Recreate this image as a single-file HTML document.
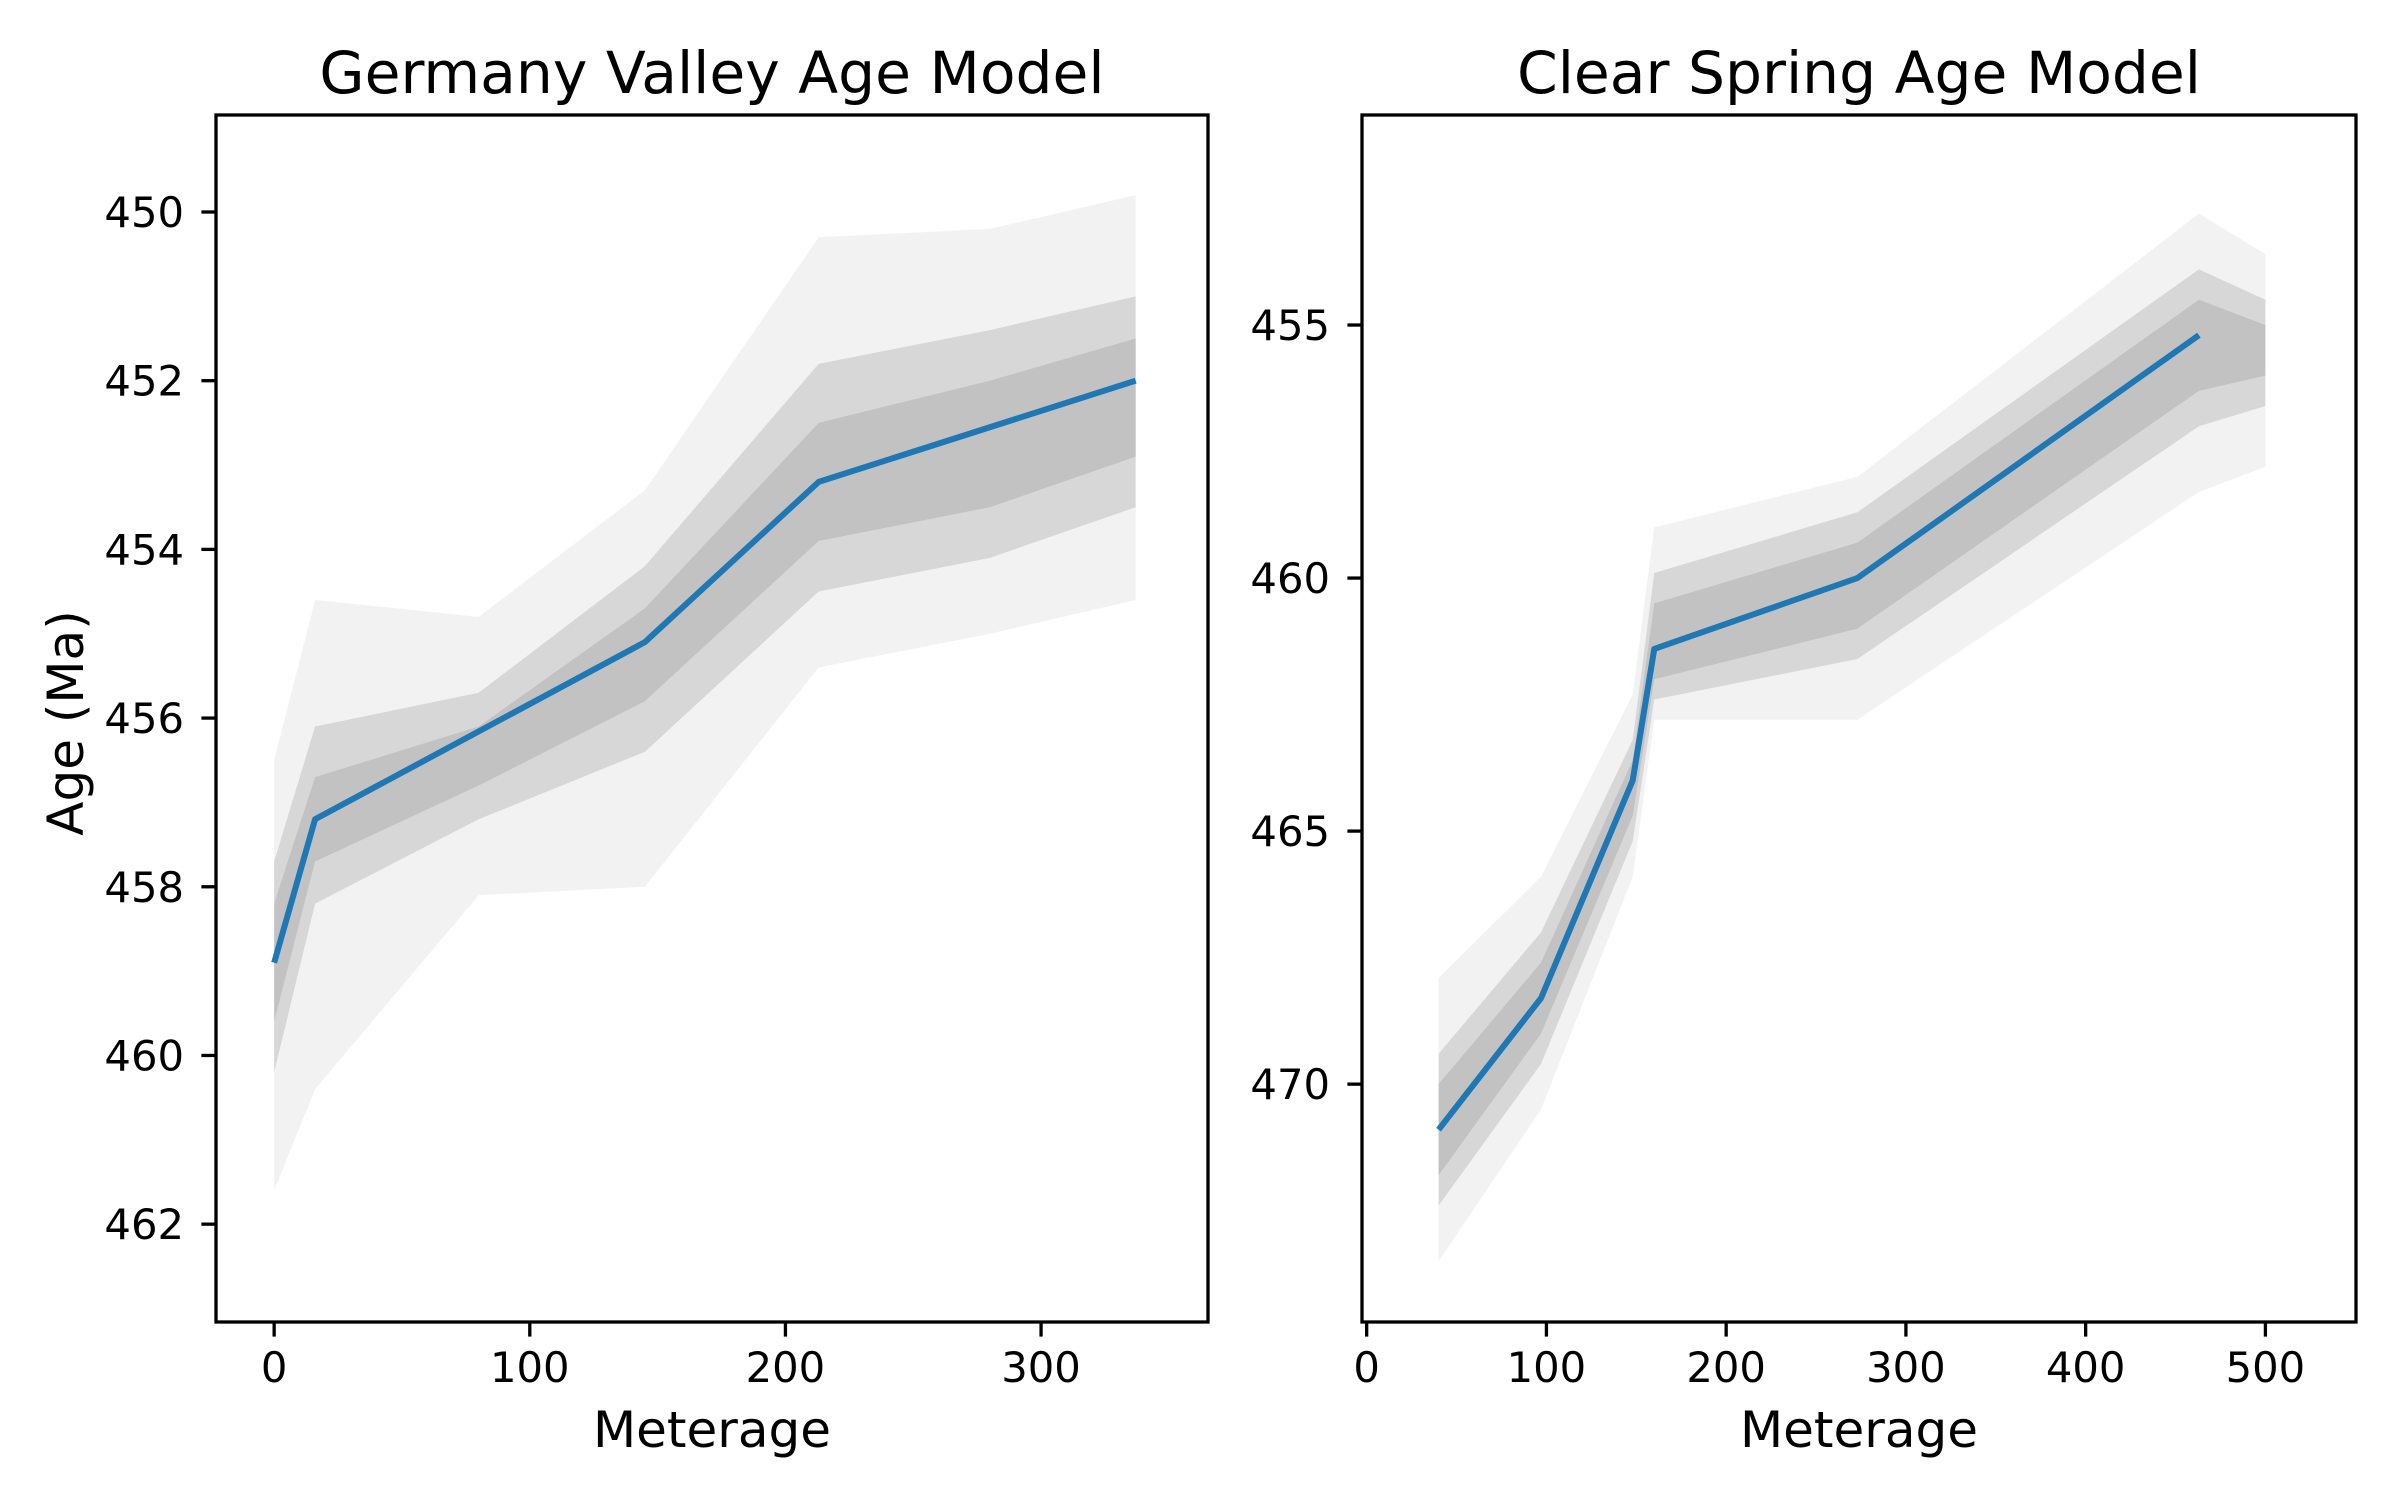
<!DOCTYPE html>
<html><head><meta charset="utf-8"><style>
html,body{margin:0;padding:0;background:#fff}
svg text{font-family:"DejaVu Sans","Liberation Sans",sans-serif;fill:#000}
</style></head><body>
<svg id="fig" width="2400" height="1500" viewBox="0 0 2400 1500" xmlns="http://www.w3.org/2000/svg"></svg>
<script>
// Germany Valley data
const gvX = [0, 16, 145, 213, 337];
const gvAge = [458.9, 457.2, 455.1, 453.2, 452.0];
const gvCloudX = [0, 16, 80, 145, 213, 280, 337];
const gvOuterTop = [456.5, 454.6, 454.8, 453.3, 450.3, 450.2, 449.8];
const gvOuterBot = [461.6, 460.4, 458.1, 458.0, 455.4, 455.0, 454.6];
const gvInnerTop = [457.7, 456.1, 455.7, 454.2, 451.8, 451.4, 451.0];
const gvInnerBot = [460.2, 458.2, 457.2, 456.4, 454.5, 454.1, 453.5];
const gvCoreTop = [458.2, 456.7, 456.1, 454.7, 452.5, 452.0, 451.5];
const gvCoreBot = [459.6, 457.7, 456.8, 455.8, 453.9, 453.5, 452.9];
const gvXTicks = [0, 100, 200, 300];
const gvYTicks = [450, 452, 454, 456, 458, 460, 462];
// Clear Spring data
const csX = [40, 97, 148, 160, 273, 463];
const csAge = [470.9, 468.3, 464.0, 461.4, 460.0, 455.2];
const csCloudX = [40, 97, 148, 160, 273, 463, 500];
const csOuterTop = [467.9, 465.9, 462.3, 459.0, 458.0, 452.8, 453.6];
const csOuterBot = [473.5, 470.5, 465.9, 462.8, 462.8, 458.3, 457.8];
const csInnerTop = [469.4, 467.0, 463.2, 459.9, 458.7, 453.9, 454.5];
const csInnerBot = [472.4, 469.6, 465.2, 462.4, 461.6, 457.0, 456.6];
const csCoreTop = [470.0, 467.6, 463.6, 460.5, 459.3, 454.5, 455.0];
const csCoreBot = [471.8, 469.0, 464.7, 462.0, 461.0, 456.3, 456.0];
const csXTicks = [0, 100, 200, 300, 400, 500];
const csYTicks = [455, 460, 465, 470];

const NS = "http://www.w3.org/2000/svg";
const svg = document.getElementById('fig');
function mk(tag, attrs, parent){const e=document.createElementNS(NS,tag);for(const k in attrs)e.setAttribute(k,attrs[k]);(parent||svg).appendChild(e);return e;}

function panel(cfg){
  const {x0,x1,y0,y1,xmin,xmax,ymin,ymax} = cfg;
  const sx = v => x0 + (v - xmin) / (xmax - xmin) * (x1 - x0);
  const sy = v => y0 + (v - ymin) / (ymax - ymin) * (y1 - y0);
  const g = mk('g', {});
  
  
  function band(xs, top, bot, op, nm){
    let pts = xs.map((x,i)=>sx(x)+','+sy(top[i]));
    pts = pts.concat(xs.map((x,i)=>sx(x)+','+sy(bot[i])).reverse());
    const p = mk('polygon', {points: pts.join(' '), fill: '#808080', 'fill-opacity': op, 'stroke-linejoin':'round'}, g);
    
    
  }
  band(cfg.cx, cfg.ot, cfg.ob, 0.1, 'monte-carlo-outer-cloud');
  band(cfg.cx, cfg.it, cfg.ib, 0.24, 'monte-carlo-inner-cloud');
  band(cfg.cx, cfg.ct, cfg.cb, 0.24, 'monte-carlo-core-cloud');
  const line = mk('polyline', {points: cfg.lx.map((x,i)=>sx(x)+','+sy(cfg.ly[i])).join(' '), fill:'none', stroke:'#1f77b4', 'stroke-width':6, 'stroke-linejoin':'round'}, g);
  
  
  const fr = mk('rect', {x:x0, y:y0, width:x1-x0, height:y1-y0, fill:'none', stroke:'#000', 'stroke-width':3.3}, g);
  
  
  cfg.xt.forEach(v=>{
    const X = sx(v);
    mk('line', {x1:X, x2:X, y1:y1, y2:y1+14.6, stroke:'#000', 'stroke-width':3.3}, g);
    const t = mk('text', {x:X, y:y1+60, 'text-anchor':'middle', 'font-size':41.7}, g);
    t.textContent = v;
    
    
  });
  cfg.yt.forEach(v=>{
    const Y = sy(v);
    mk('line', {x1:x0-14.6, x2:x0, y1:Y, y2:Y, stroke:'#000', 'stroke-width':3.3}, g);
    const t = mk('text', {x:x0-32, y:Y+15, 'text-anchor':'end', 'font-size':41.7}, g);
    t.textContent = v;
    
    
  });
  const ti = mk('text', {x:(x0+x1)/2, y:93, 'text-anchor':'middle', 'font-size':58.3}, g);
  ti.textContent = cfg.title;
  
  
  const xl = mk('text', {x:(x0+x1)/2, y:1447, 'text-anchor':'middle', 'font-size':50}, g);
  xl.textContent = 'Meterage';
  
  
}

panel({name:'germany-valley-panel', x0:216, x1:1208, y0:115, y1:1322, xmin:-22.75, xmax:365.3, ymin:448.85, ymax:463.16,
  cx:gvCloudX, ot:gvOuterTop, ob:gvOuterBot, it:gvInnerTop, ib:gvInnerBot, ct:gvCoreTop, cb:gvCoreBot, lx:gvX, ly:gvAge, xt:gvXTicks, yt:gvYTicks, title:'Germany Valley Age Model'});
panel({name:'clear-spring-panel', x0:1362, x1:2356, y0:115, y1:1322, xmin:-2.6, xmax:550.4, ymin:450.85, ymax:474.7,
  cx:csCloudX, ot:csOuterTop, ob:csOuterBot, it:csInnerTop, ib:csInnerBot, ct:csCoreTop, cb:csCoreBot, lx:csX, ly:csAge, xt:csXTicks, yt:csYTicks, title:'Clear Spring Age Model'});

const yl = mk('text', {x:0, y:0, 'text-anchor':'middle', 'font-size':50, transform:'translate(83,723) rotate(-90)'});
yl.textContent = 'Age (Ma)';


</script>
</body></html>
